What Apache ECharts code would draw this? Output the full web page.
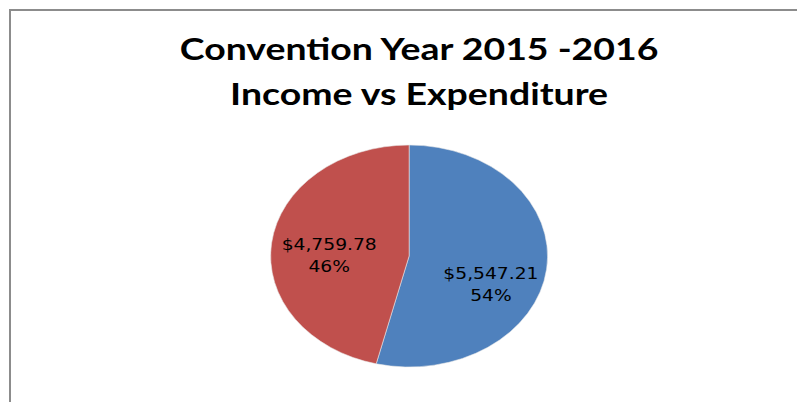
<!DOCTYPE html>
<html><head><meta charset="utf-8">
<script src="https://cdn.jsdelivr.net/npm/echarts@6/dist/echarts.min.js"></script>
<style>
html,body{margin:0;padding:0;background:#fff;width:797px;height:402px;overflow:hidden;}
#frame{position:absolute;left:9px;top:9px;width:800px;height:400px;border-top:2px solid #8c8c8c;border-left:2px solid #8c8c8c;}
#c{position:absolute;left:0;top:0;width:639px;height:402px;transform:scaleX(1.2473);transform-origin:0 0;}
</style></head>
<body>
<div id="frame"></div>
<div id="c"></div>
<script>
var titleLines = ['Convention Year 2015 -2016', 'Income vs Expenditure'];
var categories = ['Income', 'Expenditure'];
var values = [5547.21, 4759.78];
var colors = ['#4F81BD', '#C0504D'];

function money(v) {
  var parts = v.toFixed(2).split('.');
  parts[0] = parts[0].replace(/\B(?=(\d{3})+(?!\d))/g, ',');
  return '$' + parts.join('.');
}
var labelShift = [[7.5, 21.5], [-6, 7]];
var chart = echarts.init(document.getElementById('c'), null, {renderer: 'svg'});
chart.setOption({
  animation: false,
  title: {
    text: titleLines.join('\n'),
    left: 336, top: 26, textAlign: 'center', padding: 0,
    textStyle: {fontFamily: 'Lato', fontWeight: 'bold', fontSize: 30, lineHeight: 45, color: '#000'}
  },
  series: [{
    type: 'pie',
    center: [328, 256],
    radius: 111,
    startAngle: 90,
    clockwise: true,
    itemStyle: {borderColor: '#e8e8e8', borderWidth: 0.5},
    label: {
      show: true, position: 'inside', color: '#000',
      fontFamily: 'DejaVu Sans', fontSize: 15, lineHeight: 22,
      formatter: function (p) { return money(p.value) + '\n' + Math.round(p.percent) + '%'; }
    },
    labelLayout: function (p) {
      return {dx: labelShift[p.dataIndex][0], dy: labelShift[p.dataIndex][1]};
    },
    emphasis: {disabled: true},
    data: categories.map(function (c, i) {
      return {name: c, value: values[i], itemStyle: {color: colors[i]}};
    })
  }]
});
</script>
</body></html>
